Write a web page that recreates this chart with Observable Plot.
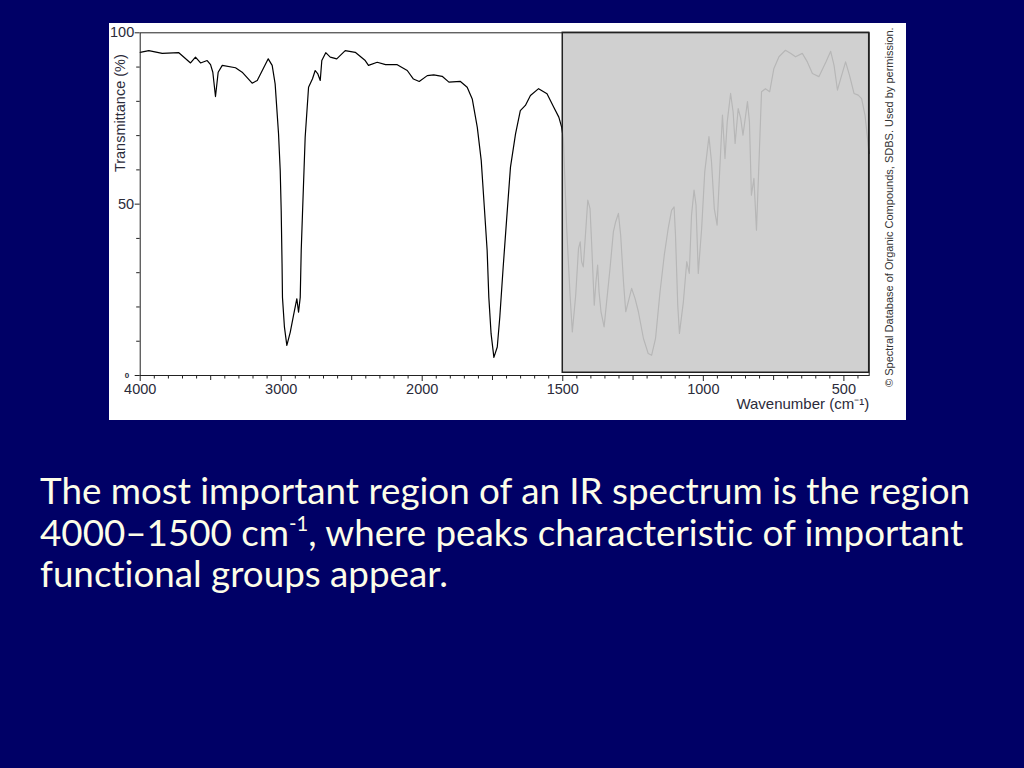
<!DOCTYPE html>
<html>
<head>
<meta charset="utf-8">
<script src="https://cdn.jsdelivr.net/npm/d3@7"></script>
<script src="https://cdn.jsdelivr.net/npm/@observablehq/plot@0.6"></script>
<style>
  html, body { margin: 0; padding: 0; width: 1024px; height: 768px; overflow: hidden; background: #000066; }
  #chart svg { position: absolute; left: 109px; top: 23px; background: #ffffff; }
  #caption { position: absolute; left: 40px; top: 470px; color: #fdfde8; font-family: Lato, "Open Sans", sans-serif; white-space: nowrap; font-variant-ligatures: none; font-feature-settings: "liga" 0; }
  #caption .ln { height: 41.5px; line-height: 41.5px; }
  #caption sup { font-size: 0.55em; vertical-align: 0.75em; line-height: 0; }
</style>
</head>
<body>
<div id="chart"></div>
<div id="caption">
  <div class="ln" id="ln1">The most important region of an IR spectrum is the region</div>
  <div class="ln">4000–1500 cm<sup>-1</sup>, where peaks characteristic of important</div>
  <div class="ln">functional groups appear.</div>
</div>
<script>
// ---- data ----
const wavenumbers = [
  4000, 3939, 3844, 3726, 3643, 3608, 3572, 3525, 3501, 3485, 3466, 3447, 3418, 3324, 3277, 3206, 3170, 3092, 3064, 3043,
  3019, 3007, 3000, 2994, 2991, 2977, 2960, 2936, 2913, 2889, 2877, 2865, 2858, 2849, 2830, 2806, 2778, 2759, 2740, 2723,
  2712, 2684, 2652, 2606, 2546, 2475, 2404, 2381, 2319, 2260, 2177, 2106, 2062, 2021, 1982, 1959, 1929, 1905, 1864, 1840,
  1822, 1804, 1790, 1779, 1769, 1763, 1755, 1745, 1733, 1724, 1712, 1700, 1686, 1668, 1651, 1633, 1615, 1586, 1556, 1532,
  1514, 1504, 1498, 1486, 1474, 1466, 1454, 1444, 1438, 1433, 1427, 1421, 1411, 1403, 1397, 1388, 1382, 1376, 1371, 1364,
  1353, 1344, 1332, 1320, 1312, 1302, 1294, 1284, 1276, 1267, 1255, 1243, 1231, 1213, 1196, 1184, 1170, 1154, 1139, 1125,
  1113, 1104, 1099, 1091, 1085, 1071, 1059, 1050, 1042, 1033, 1026, 1018, 1006, 995, 980, 971, 961, 951, 942, 932,
  923, 915, 903, 894, 887, 876, 867, 859, 843, 836, 829, 820, 811, 802, 793, 779, 764, 749, 731, 708,
  690, 672, 648, 630, 612, 589, 564, 547, 535, 523, 508, 494, 480, 464, 449, 437, 425, 416, 411
];
const transmittance = [
  94.3, 94.8, 94.0, 94.2, 91.2, 92.9, 91.2, 91.9, 90.7, 88.5, 81.4, 88.5, 90.5, 89.8, 88.5, 85.3, 86.1, 92.4, 90.5, 85.1,
  70.6, 59.8, 48.1, 32.7, 22.8, 14.1, 8.8, 12.6, 17.5, 22.4, 18.5, 22.8, 36.5, 47.3, 69.5, 84.1, 86.6, 89.0, 88.0, 86.1,
  91.9, 94.2, 92.9, 92.4, 94.8, 94.3, 91.9, 90.5, 91.4, 90.7, 90.7, 89.0, 86.5, 85.8, 87.5, 87.7, 87.3, 85.6, 85.8, 84.1,
  80.7, 72.4, 62.7, 49.1, 36.5, 22.8, 12.2, 5.3, 8.3, 17.0, 31.6, 45.2, 60.8, 70.5, 77.3, 78.8, 81.7, 83.7, 82.2, 78.3,
  75.4, 72.5, 69.2, 42.9, 23.4, 12.7, 23.4, 37.1, 39.0, 33.2, 31.7, 39.0, 51.2, 48.7, 38.0, 20.5, 27.3, 32.2, 24.4, 18.6,
  14.2, 21.5, 31.2, 41.9, 44.8, 47.3, 40.9, 27.3, 18.6, 21.5, 25.4, 22.5, 18.6, 10.8, 6.4, 5.9, 10.8, 24.4, 35.1, 42.9,
  48.2, 49.2, 40.9, 20.5, 12.3, 21.5, 33.2, 29.8, 46.8, 54.1, 49.7, 29.8, 42.9, 59.4, 69.7, 62.4, 48.7, 43.9, 59.4, 76.0,
  63.3, 74.0, 82.3, 76.9, 67.7, 77.9, 75.0, 70.1, 79.9, 74.0, 52.6, 57.5, 42.4, 62.4, 82.8, 83.7, 82.8, 89.6, 93.0, 94.9,
  94.0, 93.0, 94.0, 91.5, 88.1, 87.2, 91.5, 94.6, 90.5, 83.3, 87.6, 91.5, 87.6, 82.3, 81.8, 80.8, 76.0, 69.2, 64.8
];

// x axis: scale changes at 2000 cm-1 (as in SDBS spectra)
const xDomain = [4000, 2000, 410];
const xTicksMajor = [4000, 3000, 2000, 1500, 1000, 500];
const xTicksMid = [3500, 2500, 1750, 1250, 750];
const xTicksMinor = [3900, 3800, 3700, 3600, 3400, 3300, 3200, 3100, 2900, 2800, 2700, 2600, 2400, 2300, 2200, 2100,
  1950, 1900, 1850, 1800, 1700, 1650, 1600, 1550, 1450, 1400, 1350, 1300, 1200, 1150, 1100, 1050,
  950, 900, 850, 800, 700, 650, 600, 550, 450];
const yTicksLabeled = [50, 100];
const yTicksZero = [0];
const yTicksMinor = [10, 20, 30, 40, 60, 70, 80, 90];

// highlighted (greyed) fingerprint region
const regionX = [1500, 410];
const regionY = [0.8, 100];

const yLabel = "Transmittance (%)";
const xLabel = "Wavenumber (cm\u207B\u00B9)";
const credit = "\u00A9 Spectral Database of Organic Compounds, SDBS. Used by permission.";

// ---- build tables ----
const spectrum = wavenumbers.map((wn, i) => ({wn, t: transmittance[i]}));
const region = [{x1: regionX[0], x2: regionX[1], y1: regionY[0], y2: regionY[1]}];

const W = 797, H = 397;
const mL = 30.7, mT = 9.3, mR = 37.3, mB = 45;
const xBreakPx = 312.7;
const fmt = d3.format("d");
const blank = () => "";

const chart = Plot.plot({
  width: W, height: H,
  marginLeft: mL, marginTop: mT, marginRight: mR, marginBottom: mB,
  style: {background: "#ffffff", fontFamily: "'Liberation Sans', Arial, sans-serif", color: "#2b2b3a", overflow: "visible"},
  x: {type: "linear", domain: xDomain, range: [mL, xBreakPx, W - mR]},
  y: {type: "linear", domain: [0, 100]},
  marks: [
    Plot.line(spectrum, {x: "wn", y: "t", stroke: "#000000", strokeWidth: 1.2}),
    Plot.rect(region, {x1: "x1", x2: "x2", y1: "y1", y2: "y2", fill: "#cbcbcb", fillOpacity: 0.9, stroke: "#222222", strokeWidth: 1.5}),
    Plot.frame({stroke: "#222222", strokeWidth: 1}),
    Plot.axisX({ticks: xTicksMajor, tickSize: 6, tickPadding: 2, fontSize: 14.5, tickFormat: fmt, label: null, stroke: "#222", fill: "#2b2b3a"}),
    Plot.axisX({ticks: xTicksMid, tickSize: 5, tickFormat: blank, label: null, stroke: "#222"}),
    Plot.axisX({ticks: xTicksMinor, tickSize: 3.5, tickFormat: blank, label: null, stroke: "#222"}),
    Plot.axisY({ticks: yTicksLabeled, tickSize: 5, tickPadding: 1, fontSize: 14.5, tickFormat: fmt, label: null, stroke: "#222", fill: "#2b2b3a"}),
    Plot.axisY({ticks: yTicksZero, tickSize: 5, tickPadding: 6, fontSize: 8, fontWeight: "bold", tickFormat: fmt, label: null, stroke: "#222", fill: "#2b2b3a"}),
    Plot.axisY({ticks: yTicksMinor, tickSize: 3.5, tickFormat: blank, label: null, stroke: "#222"}),
    Plot.text([yLabel], {text: d => d, frameAnchor: "left", rotate: -90, textAnchor: "middle", lineAnchor: "middle", dx: -20, dy: -91, fontSize: 14.5, fill: "#2b2b3a"}),
    Plot.text([xLabel], {text: d => d, frameAnchor: "bottom-right", textAnchor: "end", lineAnchor: "middle", dx: 0, dy: 29, fontSize: 15, fill: "#2b2b3a"}),
    Plot.text([credit], {text: d => d, frameAnchor: "right", rotate: -90, textAnchor: "middle", lineAnchor: "middle", dx: 20, dy: 3, fontSize: 11, fill: "#333333"})
  ]
});
document.getElementById("chart").appendChild(chart);

// fit caption font size to the reference line width
(function fitCaption() {
  const target = 931;
  const c = document.createElement("canvas").getContext("2d");
  c.font = "100px Lato";
  const w = c.measureText(document.getElementById("ln1").textContent).width;
  const size = 100 * target / w;
  document.getElementById("caption").style.fontSize = size.toFixed(2) + "px";
})();
</script>
</body>
</html>
